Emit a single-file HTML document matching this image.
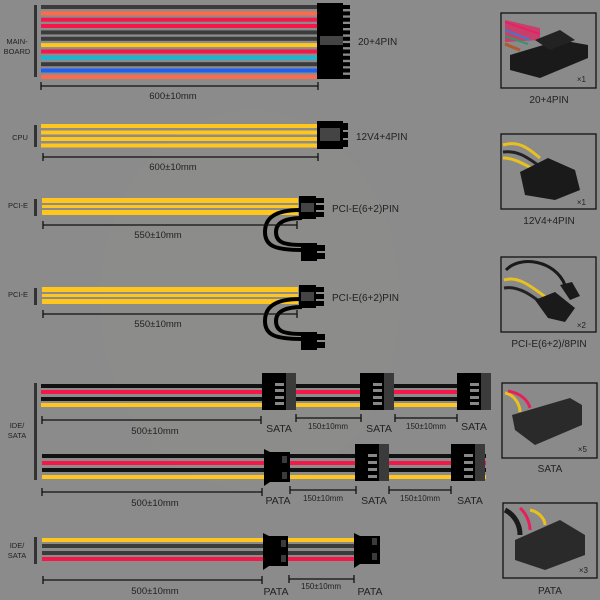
<!DOCTYPE html>
<html><head><style>
html,body{margin:0;padding:0;background:#8b8b8b;}
svg{display:block;}
text{font-family:"Liberation Sans",sans-serif;}
</style></head><body>
<svg width="600" height="600" viewBox="0 0 600 600" xmlns="http://www.w3.org/2000/svg">
<rect width="600" height="600" fill="#8b8b8b"/>
<ellipse cx="250" cy="300" rx="150" ry="190" fill="#8e9189" opacity="0.4"/>

<!-- MAIN BOARD -->
<rect x="34" y="5" width="3" height="72" fill="#333"/>
<text x="17" y="44" font-size="7.5" fill="#222" text-anchor="middle">MAIN-</text>
<text x="17" y="54" font-size="7.5" fill="#222" text-anchor="middle">BOARD</text>
<g>
<rect x="41" y="5" width="277" height="4" fill="#3b3b3b"/>
<rect x="41" y="11.4" width="277" height="4" fill="#ff6b4a"/>
<rect x="41" y="17.7" width="277" height="4" fill="#f5174a"/>
<rect x="41" y="24" width="277" height="4" fill="#f5174a"/>
<rect x="41" y="30.4" width="277" height="4" fill="#3b3b3b"/>
<rect x="41" y="36.8" width="277" height="4" fill="#3b3b3b"/>
<rect x="41" y="43.1" width="277" height="4" fill="#ffc61e"/>
<rect x="41" y="49.5" width="277" height="4" fill="#f5174a"/>
<rect x="41" y="55.8" width="277" height="4" fill="#1eb4cf"/>
<rect x="41" y="62.2" width="277" height="4" fill="#3b3b3b"/>
<rect x="41" y="68.5" width="277" height="4" fill="#1e5ff5"/>
<rect x="41" y="74.9" width="277" height="4" fill="#ff6b4a"/>
</g>
<rect x="317" y="3" width="26" height="76" fill="#000"/>
<g fill="#000">
<rect x="342" y="5" width="8" height="4"/><rect x="342" y="11.4" width="8" height="4"/><rect x="342" y="17.7" width="8" height="4"/><rect x="342" y="24" width="8" height="4"/><rect x="342" y="30.4" width="8" height="4"/><rect x="342" y="36.8" width="8" height="4"/><rect x="342" y="43.1" width="8" height="4"/><rect x="342" y="49.5" width="8" height="4"/><rect x="342" y="55.8" width="8" height="4"/><rect x="342" y="62.2" width="8" height="4"/><rect x="342" y="68.5" width="8" height="4"/><rect x="342" y="74.9" width="8" height="4"/>
</g>
<rect x="320" y="36" width="23" height="9" fill="#444"/>
<text x="358" y="45" font-size="10" fill="#222">20+4PIN</text>
<g stroke="#111" stroke-width="1.3"><line x1="41" y1="86" x2="318" y2="86"/><line x1="41" y1="82" x2="41" y2="90"/><line x1="318" y1="82" x2="318" y2="90"/></g>
<text x="173" y="99" font-size="9.5" fill="#222" text-anchor="middle">600±10mm</text>

<!-- CPU -->
<rect x="34" y="125" width="3" height="22" fill="#333"/>
<text x="20" y="140" font-size="7.5" fill="#222" text-anchor="middle">CPU</text>
<rect x="41" y="124" width="277" height="4" fill="#ffc61e"/>
<rect x="41" y="130.5" width="277" height="4" fill="#ffc61e"/>
<rect x="41" y="137" width="277" height="4" fill="#ffc61e"/>
<rect x="41" y="143.5" width="277" height="4" fill="#ffc61e"/>
<rect x="317" y="121" width="26" height="28" fill="#000"/>
<rect x="342" y="123" width="6" height="7" fill="#000"/><rect x="342" y="132" width="6" height="6" fill="#000"/><rect x="342" y="140" width="6" height="7" fill="#000"/>
<rect x="320" y="128" width="20" height="13" fill="#444"/>
<text x="356" y="140" font-size="10" fill="#222">12V4+4PIN</text>
<g stroke="#111" stroke-width="1.3"><line x1="43" y1="157" x2="318" y2="157"/><line x1="43" y1="153" x2="43" y2="161"/><line x1="318" y1="153" x2="318" y2="161"/></g>
<text x="173" y="170" font-size="9.5" fill="#222" text-anchor="middle">600±10mm</text>

<!-- PCI-E 1 -->
<rect x="34" y="199" width="3" height="17" fill="#333"/>
<text x="18" y="208" font-size="7.5" fill="#222" text-anchor="middle">PCI-E</text>
<rect x="42" y="198" width="256" height="5" fill="#ffc61e"/>
<rect x="42" y="205" width="256" height="3" fill="#ffc61e"/>
<rect x="42" y="210" width="256" height="5" fill="#ffc61e"/>
<g fill="none" stroke="#000" stroke-width="4">
<path d="M300,210 C272,210 265,220 265,232 C265,246 275,250 302,250"/>
<path d="M302,218 C283,218 276,224 276,232 C276,242 283,245 302,245"/>
</g>
<rect x="299" y="196" width="17" height="23" fill="#000"/>
<rect x="315" y="198" width="9" height="5" fill="#000"/><rect x="315" y="205" width="9" height="5" fill="#000"/><rect x="315" y="212" width="9" height="5" fill="#000"/>
<rect x="301" y="203" width="13" height="9" fill="#444"/>
<rect x="301" y="243" width="16" height="18" fill="#000"/>
<rect x="316" y="245" width="9" height="6" fill="#000"/><rect x="316" y="253" width="9" height="6" fill="#000"/>
<text x="332" y="212" font-size="10" fill="#222">PCI-E(6+2)PIN</text>
<g stroke="#111" stroke-width="1.3"><line x1="43" y1="225" x2="297" y2="225"/><line x1="43" y1="221" x2="43" y2="229"/><line x1="297" y1="221" x2="297" y2="229"/></g>
<text x="158" y="238" font-size="9.5" fill="#222" text-anchor="middle">550±10mm</text>

<!-- PCI-E 2 -->
<rect x="34" y="288" width="3" height="17" fill="#333"/>
<text x="18" y="297" font-size="7.5" fill="#222" text-anchor="middle">PCI-E</text>
<rect x="42" y="287" width="256" height="5" fill="#ffc61e"/>
<rect x="42" y="294" width="256" height="3" fill="#ffc61e"/>
<rect x="42" y="299" width="256" height="5" fill="#ffc61e"/>
<g fill="none" stroke="#000" stroke-width="4">
<path d="M300,299 C272,299 265,309 265,321 C265,335 275,339 302,339"/>
<path d="M302,307 C283,307 276,313 276,321 C276,331 283,334 302,334"/>
</g>
<rect x="299" y="285" width="17" height="23" fill="#000"/>
<rect x="315" y="287" width="9" height="5" fill="#000"/><rect x="315" y="294" width="9" height="5" fill="#000"/><rect x="315" y="301" width="9" height="5" fill="#000"/>
<rect x="301" y="292" width="13" height="9" fill="#444"/>
<rect x="301" y="332" width="16" height="18" fill="#000"/>
<rect x="316" y="334" width="9" height="6" fill="#000"/><rect x="316" y="342" width="9" height="6" fill="#000"/>
<text x="332" y="301" font-size="10" fill="#222">PCI-E(6+2)PIN</text>
<g stroke="#111" stroke-width="1.3"><line x1="43" y1="314" x2="297" y2="314"/><line x1="43" y1="310" x2="43" y2="318"/><line x1="297" y1="310" x2="297" y2="318"/></g>
<text x="158" y="327" font-size="9.5" fill="#222" text-anchor="middle">550±10mm</text>

<!-- IDE/SATA block 1 -->
<rect x="34" y="383" width="3" height="97" fill="#333"/>
<text x="17" y="428" font-size="7.5" fill="#222" text-anchor="middle">IDE/</text>
<text x="17" y="438" font-size="7.5" fill="#222" text-anchor="middle">SATA</text>
<rect x="41" y="384" width="450" height="4" fill="#111"/>
<rect x="41" y="390" width="450" height="4" fill="#f5174a"/>
<rect x="41" y="397" width="450" height="4" fill="#111"/>
<rect x="41" y="403" width="450" height="4" fill="#ffc61e"/>
<g>
<rect x="262" y="373" width="34" height="37" fill="#000"/><rect x="286" y="373" width="10" height="37" fill="#3b3b3b"/>
<rect x="275" y="383" width="9" height="3" fill="#888"/><rect x="275" y="389" width="9" height="3" fill="#888"/><rect x="275" y="396" width="9" height="3" fill="#888"/><rect x="275" y="402" width="9" height="3" fill="#888"/>
<rect x="360" y="373" width="34" height="37" fill="#000"/><rect x="384" y="373" width="10" height="37" fill="#3b3b3b"/>
<rect x="373" y="383" width="9" height="3" fill="#888"/><rect x="373" y="389" width="9" height="3" fill="#888"/><rect x="373" y="396" width="9" height="3" fill="#888"/><rect x="373" y="402" width="9" height="3" fill="#888"/>
<rect x="457" y="373" width="34" height="37" fill="#000"/><rect x="481" y="373" width="10" height="37" fill="#3b3b3b"/>
<rect x="470" y="383" width="9" height="3" fill="#888"/><rect x="470" y="389" width="9" height="3" fill="#888"/><rect x="470" y="396" width="9" height="3" fill="#888"/><rect x="470" y="402" width="9" height="3" fill="#888"/>
</g>
<g stroke="#111" stroke-width="1.3">
<line x1="42" y1="420" x2="261" y2="420"/><line x1="42" y1="416" x2="42" y2="424"/><line x1="261" y1="416" x2="261" y2="424"/>
<line x1="296" y1="418" x2="361" y2="418"/><line x1="296" y1="414" x2="296" y2="422"/><line x1="361" y1="414" x2="361" y2="422"/>
<line x1="395" y1="418" x2="457" y2="418"/><line x1="395" y1="414" x2="395" y2="422"/><line x1="457" y1="414" x2="457" y2="422"/>
</g>
<text x="155" y="434" font-size="9.5" fill="#222" text-anchor="middle">500±10mm</text>
<text x="279" y="432" font-size="10.5" fill="#222" text-anchor="middle">SATA</text>
<text x="328" y="429" font-size="8" fill="#222" text-anchor="middle">150±10mm</text>
<text x="379" y="432" font-size="10.5" fill="#222" text-anchor="middle">SATA</text>
<text x="426" y="429" font-size="8" fill="#222" text-anchor="middle">150±10mm</text>
<text x="474" y="430" font-size="10.5" fill="#222" text-anchor="middle">SATA</text>

<rect x="42" y="454" width="444" height="4" fill="#111"/>
<rect x="42" y="461" width="444" height="4" fill="#f5174a"/>
<rect x="42" y="468" width="444" height="4" fill="#111"/>
<rect x="42" y="475" width="444" height="4" fill="#ffc61e"/>
<path d="M264,449 L270,452 L290,452 L290,482 L270,482 L264,486 Z" fill="#000"/>
<rect x="282" y="456" width="5" height="7" fill="#3b3b3b"/><rect x="282" y="472" width="5" height="7" fill="#3b3b3b"/>
<rect x="355" y="444" width="34" height="37" fill="#000"/><rect x="379" y="444" width="10" height="37" fill="#3b3b3b"/>
<rect x="368" y="454" width="9" height="3" fill="#888"/><rect x="368" y="461" width="9" height="3" fill="#888"/><rect x="368" y="468" width="9" height="3" fill="#888"/><rect x="368" y="475" width="9" height="3" fill="#888"/>
<rect x="451" y="444" width="34" height="37" fill="#000"/><rect x="475" y="444" width="10" height="37" fill="#3b3b3b"/>
<rect x="464" y="454" width="9" height="3" fill="#888"/><rect x="464" y="461" width="9" height="3" fill="#888"/><rect x="464" y="468" width="9" height="3" fill="#888"/><rect x="464" y="475" width="9" height="3" fill="#888"/>
<g stroke="#111" stroke-width="1.3">
<line x1="42" y1="492" x2="262" y2="492"/><line x1="42" y1="488" x2="42" y2="496"/><line x1="262" y1="488" x2="262" y2="496"/>
<line x1="290" y1="490" x2="356" y2="490"/><line x1="290" y1="486" x2="290" y2="494"/><line x1="356" y1="486" x2="356" y2="494"/>
<line x1="389" y1="490" x2="451" y2="490"/><line x1="389" y1="486" x2="389" y2="494"/><line x1="451" y1="486" x2="451" y2="494"/>
</g>
<text x="155" y="506" font-size="9.5" fill="#222" text-anchor="middle">500±10mm</text>
<text x="278" y="504" font-size="10.5" fill="#222" text-anchor="middle">PATA</text>
<text x="323" y="501" font-size="8" fill="#222" text-anchor="middle">150±10mm</text>
<text x="374" y="504" font-size="10.5" fill="#222" text-anchor="middle">SATA</text>
<text x="420" y="501" font-size="8" fill="#222" text-anchor="middle">150±10mm</text>
<text x="470" y="504" font-size="10.5" fill="#222" text-anchor="middle">SATA</text>

<!-- IDE/SATA block 2 -->
<rect x="34" y="537" width="3" height="27" fill="#333"/>
<text x="17" y="548" font-size="7.5" fill="#222" text-anchor="middle">IDE/</text>
<text x="17" y="558" font-size="7.5" fill="#222" text-anchor="middle">SATA</text>
<rect x="42" y="538" width="313" height="4" fill="#ffc61e"/>
<rect x="42" y="544" width="313" height="4" fill="#3b3b3b"/>
<rect x="42" y="551" width="313" height="4" fill="#3b3b3b"/>
<rect x="42" y="557" width="313" height="4" fill="#f5174a"/>
<path d="M263,533 L269,536 L288,536 L288,566 L269,566 L263,570 Z" fill="#000"/>
<rect x="281" y="540" width="5" height="7" fill="#3b3b3b"/><rect x="281" y="555" width="5" height="7" fill="#3b3b3b"/>
<path d="M354,533 L360,536 L380,536 L380,564 L360,564 L354,568 Z" fill="#000"/>
<rect x="372" y="538" width="5" height="7" fill="#3b3b3b"/><rect x="372" y="553" width="5" height="7" fill="#3b3b3b"/>
<g stroke="#111" stroke-width="1.3">
<line x1="43" y1="580" x2="262" y2="580"/><line x1="43" y1="576" x2="43" y2="584"/><line x1="262" y1="576" x2="262" y2="584"/>
<line x1="289" y1="579" x2="354" y2="579"/><line x1="289" y1="575" x2="289" y2="583"/><line x1="354" y1="575" x2="354" y2="583"/>
</g>
<text x="155" y="594" font-size="9.5" fill="#222" text-anchor="middle">500±10mm</text>
<text x="276" y="595" font-size="10.5" fill="#222" text-anchor="middle">PATA</text>
<text x="321" y="589" font-size="8" fill="#222" text-anchor="middle">150±10mm</text>
<text x="370" y="595" font-size="10.5" fill="#222" text-anchor="middle">PATA</text>

<!-- RIGHT PANEL -->
<g fill="#8a8a8a" stroke="#111" stroke-width="1.3">
<rect x="501" y="13" width="95" height="75"/>
<rect x="501" y="134" width="95" height="75"/>
<rect x="501" y="257" width="95" height="75"/>
<rect x="502" y="383" width="95" height="75"/>
<rect x="503" y="503" width="94" height="75"/>
</g>
<g>
<path d="M505,20 L540,28 L540,40 L505,42 Z" fill="#c8406a"/>
<path d="M505,22 L540,34" stroke="#e8206a" stroke-width="2"/>
<path d="M505,30 L530,40" stroke="#3a7ad0" stroke-width="2"/>
<path d="M505,36 L528,44" stroke="#2a9a6a" stroke-width="2"/>
<path d="M505,44 L520,50" stroke="#b05a2a" stroke-width="3"/>
<path d="M510,55 L560,40 L588,45 L588,58 L540,78 L510,70 Z" fill="#1a1a1a"/>
<path d="M535,40 L560,30 L575,40 L550,50 Z" fill="#222"/>
</g>
<text x="586" y="82" font-size="8" fill="#222" text-anchor="end">×1</text>
<g>
<path d="M503,145 C520,140 530,150 540,158" stroke="#e8c020" stroke-width="3" fill="none"/>
<path d="M503,152 C518,150 528,158 538,165" stroke="#222" stroke-width="3" fill="none"/>
<path d="M503,158 C515,158 525,165 535,170" stroke="#e8c020" stroke-width="3" fill="none"/>
<path d="M520,172 L548,158 L575,170 L580,190 L555,200 L525,195 Z" fill="#1a1a1a"/>
</g>
<text x="586" y="205" font-size="8" fill="#222" text-anchor="end">×1</text>
<g>
<path d="M506,270 C520,255 555,260 565,285" stroke="#1a1a1a" stroke-width="3" fill="none"/>
<path d="M504,280 C520,275 535,290 550,300" stroke="#e8c020" stroke-width="3" fill="none"/>
<path d="M504,288 C520,285 535,298 548,308" stroke="#222" stroke-width="3" fill="none"/>
<path d="M535,300 L555,292 L575,308 L565,322 L548,318 Z" fill="#1a1a1a"/>
<path d="M560,285 L572,282 L580,296 L570,300 Z" fill="#1a1a1a"/>
</g>
<text x="586" y="328" font-size="8" fill="#222" text-anchor="end">×2</text>
<g>
<path d="M505,393 C515,395 520,405 520,412" stroke="#e8c020" stroke-width="3" fill="none"/>
<path d="M508,391 C520,393 528,400 530,408" stroke="#e8205a" stroke-width="3" fill="none"/>
<path d="M512,415 L570,398 L582,405 L582,425 L535,445 L515,430 Z" fill="#2a2a2a"/>
</g>
<text x="587" y="452" font-size="8" fill="#222" text-anchor="end">×5</text>
<g>
<path d="M505,510 C515,515 520,525 520,535" stroke="#1a1a1a" stroke-width="5" fill="none"/>
<path d="M520,508 C528,515 530,525 530,530" stroke="#e8205a" stroke-width="3" fill="none"/>
<path d="M530,510 C540,512 545,520 545,525" stroke="#e8c020" stroke-width="3" fill="none"/>
<path d="M515,540 L560,520 L585,535 L585,555 L545,570 L515,560 Z" fill="#2a2a2a"/>
</g>
<text x="588" y="573" font-size="8" fill="#222" text-anchor="end">×3</text>
<g font-size="10" fill="#222" text-anchor="middle">
<text x="549" y="103">20+4PIN</text>
<text x="549" y="224">12V4+4PIN</text>
<text x="549" y="347">PCI-E(6+2)/8PIN</text>
<text x="550" y="472">SATA</text>
<text x="550" y="594">PATA</text>
</g>
</svg>
</body></html>
